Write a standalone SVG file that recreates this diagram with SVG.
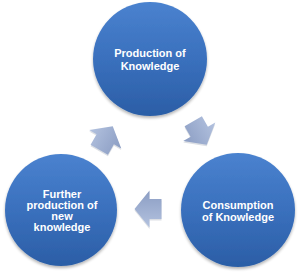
<svg xmlns="http://www.w3.org/2000/svg" width="300" height="275" viewBox="0 0 300 275">
<defs>
<linearGradient id="cg" x1="0" y1="0" x2="0" y2="1">
<stop offset="0" stop-color="#4a82cf"/>
<stop offset="0.5" stop-color="#3a70bd"/>
<stop offset="1" stop-color="#2b5ea6"/>
</linearGradient>
<linearGradient id="ag" x1="0" y1="0" x2="0" y2="1" gradientUnits="objectBoundingBox">
<stop offset="0" stop-color="#b3c2df"/>
<stop offset="1" stop-color="#8b9dc3"/>
</linearGradient>
<filter id="sh" x="-20%" y="-20%" width="140%" height="140%">
<feGaussianBlur in="SourceAlpha" stdDeviation="1.5"/>
<feOffset dx="0" dy="2" result="b"/>
<feComponentTransfer><feFuncA type="linear" slope="0.3"/></feComponentTransfer>
<feMerge><feMergeNode/><feMergeNode in="SourceGraphic"/></feMerge>
</filter>
<polygon id="arr" points="-13.5,-10 -1.5,-10 -1.5,-18.5 13.5,0 -1.5,18.5 -1.5,10 -13.5,10"/>
</defs>
<style>
.c{fill:url(#cg);filter:url(#sh)}
.t{font-family:"Liberation Sans",Arial,sans-serif;font-size:11px;font-weight:bold;fill:#ffffff;text-anchor:middle}
.a{fill:url(#ag)}
.as{fill:#9aa3b3;opacity:0.35}
</style>
<g id="connectors">
<use href="#arr" class="as" transform="translate(106,139.5) rotate(-60)"/>
<use href="#arr" class="a" transform="translate(106,138) rotate(-60)"/>
<use href="#arr" class="as" transform="translate(200,134.5) rotate(60)"/>
<use href="#arr" class="a" transform="translate(200,133) rotate(60)"/>
<use href="#arr" class="as" transform="translate(148,210.5) rotate(180)"/>
<use href="#arr" class="a" transform="translate(148,209) rotate(180)"/>
</g>
<g id="node-production">
<circle class="c" cx="150" cy="59" r="57"/>
<text class="t" x="150" y="57">Production of</text>
<text class="t" x="150" y="70">Knowledge</text>
</g>
<g id="node-consumption">
<circle class="c" cx="238" cy="210" r="57"/>
<text class="t" x="238" y="209">Consumption</text>
<text class="t" x="238" y="221">of Knowledge</text>
</g>
<g id="node-further">
<circle class="c" cx="61" cy="210" r="56"/>
<text class="t" x="62" y="198">Further</text>
<text class="t" x="62" y="209">production of</text>
<text class="t" x="62" y="220">new</text>
<text class="t" x="62" y="231">knowledge</text>
</g>
</svg>
